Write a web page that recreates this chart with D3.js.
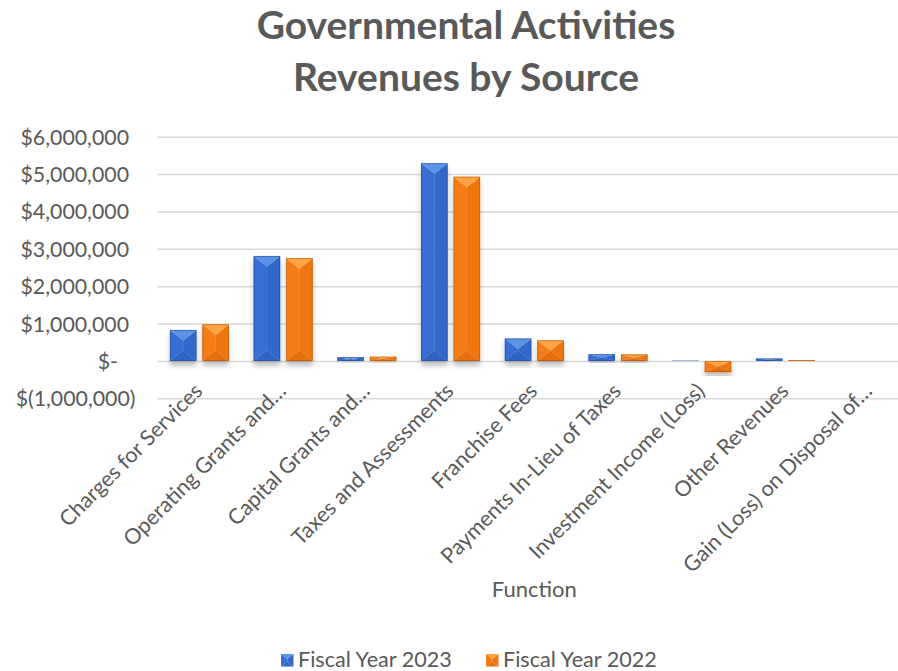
<!DOCTYPE html>
<html>
<head>
<meta charset="utf-8">
<script src="https://cdn.jsdelivr.net/npm/d3@7"></script>
<style>
  html, body { margin: 0; padding: 0; background: #fff; overflow: hidden; }
  svg { display: block; font-family: Lato, "Open Sans", sans-serif; }
</style>
</head>
<body>
<svg id="chart" width="898" height="671"></svg>
<script>
// Revenue sources (axis labels as shown, long names shortened with an ellipsis)
const categories = [
  "Charges for Services",
  "Operating Grants and…",
  "Capital Grants and…",
  "Taxes and Assessments",
  "Franchise Fees",
  "Payments In-Lieu of Taxes",
  "Investment Income (Loss)",
  "Other Revenues",
  "Gain (Loss) on Disposal of…"
];
const seriesNames = ["Fiscal Year 2023", "Fiscal Year 2022"];
const fy2023 = [830000, 2810000, 100000, 5290000, 600000, 180000, 10000, 65000, 0];
const fy2022 = [980000, 2750000, 115000, 4930000, 550000, 175000, -300000, 25000, 0];
const yTicks = [-1000000, 0, 1000000, 2000000, 3000000, 4000000, 5000000, 6000000];
const titleLines = ["Governmental Activities", "Revenues by Source"];
const xAxisTitle = "Function";

const seriesValues = [fy2023, fy2022];
const rows = categories.map((c, i) => ({
  category: c,
  values: seriesNames.map((s, j) => ({ series: s, value: seriesValues[j][i] }))
}));

// Bevel palettes per series
const palettes = {
  "Fiscal Year 2023": { top: "#5b93e6", bottom: "#3163c4", left: "#386ed3", right: "#3268cb", edge: "#1e4a9a" },
  "Fiscal Year 2022": { top: "#ffa443", bottom: "#e46f0d", left: "#f57c16", right: "#ee7611", edge: "#b05000" }
};

const svg = d3.select("#chart");
const chartWidth = 932;  // full chart area; the right edge runs past the window
const plot = { left: 157.6, right: 911, top: 136.7, bottom: 398.3 };
const textColor = "#595959";
const gridColor = "#d9d9d9";

const defs = svg.append("defs");
const shadow = defs.append("filter").attr("id", "barShadow")
  .attr("x", "-30%").attr("y", "-30%").attr("width", "160%").attr("height", "160%");
shadow.append("feDropShadow")
  .attr("dx", 0).attr("dy", 5).attr("stdDeviation", 2.4)
  .attr("flood-color", "#000").attr("flood-opacity", 0.24);

// Scales
const x0 = d3.scaleBand().domain(categories).range([plot.left, plot.right]).paddingInner(0).paddingOuter(0);
const groupInset = x0.bandwidth() * 0.1475;
const x1 = d3.scaleBand().domain(seriesNames)
  .range([groupInset, x0.bandwidth() - groupInset]).paddingInner(0.185).paddingOuter(0);
const y = d3.scaleLinear().domain([-1000000, 6000000]).range([plot.bottom, plot.top]);

// Title
const title = svg.append("g").attr("fill", textColor)
  .attr("font-weight", 700).attr("font-size", 39).attr("text-anchor", "middle");
title.selectAll("text").data(titleLines).join("text")
  .attr("x", chartWidth / 2)
  .attr("y", (d, i) => 39 + i * 52)
  .text(d => d);

// Gridlines
const yAxisGrid = d3.axisLeft(y).tickValues(yTicks)
  .tickSize(-(plot.right - plot.left)).tickFormat("");
svg.append("g")
  .attr("transform", `translate(${plot.left},0)`)
  .call(yAxisGrid)
  .call(g => g.select(".domain").remove())
  .call(g => g.selectAll(".tick line").attr("stroke", gridColor).attr("stroke-width", 1.5));

// Y axis labels in accounting style
const fmt = d3.format(",");
const accounting = v => v === 0 ? "$-" : v < 0 ? `$(${fmt(-v)})` : `$${fmt(v)}`;
const yAxis = d3.axisLeft(y).tickValues(yTicks).tickSize(0).tickPadding(28.6).tickFormat(accounting);
svg.append("g")
  .attr("transform", `translate(${plot.left},0)`)
  .call(yAxis)
  .call(g => g.select(".domain").remove())
  .call(g => g.selectAll(".tick text")
    .attr("fill", textColor)
    .attr("font-size", 21.3)
    .attr("font-family", "Lato, sans-serif")
    .attr("dy", "0.35em")
    .attr("dx", d => d === 0 ? -11 : d < 0 ? 6.5 : 0));

// Bars with a pyramid bevel
function bevelFaces(bx, top, bottom, w) {
  const h = bottom - top;
  const d = Math.min(w * 0.4, h / 2);
  const cx = bx + w / 2;
  return {
    top: [[bx, top], [bx + w, top], [cx, top + d]],
    bottom: [[bx, bottom], [bx + w, bottom], [cx, bottom - d]],
    left: [[bx, top], [cx, top + d], [cx, bottom - d], [bx, bottom]],
    right: [[bx + w, top], [cx, top + d], [cx, bottom - d], [bx + w, bottom]]
  };
}
const pts = p => p.map(q => q.join(",")).join(" ");

function drawBevel(g, bx, top, bottom, w, p, outline) {
  const f = bevelFaces(bx, top, bottom, w);
  g.append("polygon").attr("points", pts(f.left)).attr("fill", p.left);
  g.append("polygon").attr("points", pts(f.right)).attr("fill", p.right);
  g.append("polygon").attr("points", pts(f.top)).attr("fill", p.top);
  g.append("polygon").attr("points", pts(f.bottom)).attr("fill", p.bottom);
  if (outline) {
    g.append("rect").attr("x", bx + 0.4).attr("y", top + 0.4)
      .attr("width", w - 0.8).attr("height", Math.max(0, bottom - top - 0.8))
      .attr("fill", "none").attr("stroke", p.edge).attr("stroke-width", 0.8).attr("stroke-opacity", 0.7);
  }
}

const groups = svg.append("g").selectAll("g.cat").data(rows).join("g")
  .attr("class", "cat")
  .attr("transform", d => `translate(${x0(d.category)},0)`);

groups.selectAll("g.bar").data(d => d.values).join("g")
  .attr("class", "bar")
  .attr("filter", "url(#barShadow)")
  .each(function(d) {
    const top = Math.min(y(d.value), y(0));
    const bottom = Math.max(y(d.value), y(0));
    if (bottom - top < 0.3) return;
    drawBevel(d3.select(this), x1(d.series), top, bottom, x1.bandwidth(), palettes[d.series], true);
  });

// Category labels, rotated 45 degrees
const xLabels = svg.append("g").attr("fill", textColor).attr("font-size", 21.5);
xLabels.selectAll("text").data(categories).join("text")
  .attr("text-anchor", "end")
  .attr("transform", d => `translate(${x0(d) + x0.bandwidth() / 2 - 1},${387}) rotate(-45)`)
  .attr("dy", "0.35em")
  .text(d => d);

// Axis title
svg.append("text")
  .attr("x", (plot.left + plot.right) / 2)
  .attr("y", 597)
  .attr("text-anchor", "middle")
  .attr("fill", textColor)
  .attr("font-size", 22)
  .text(xAxisTitle);

// Legend
const legend = svg.append("g").attr("font-size", 21.6).attr("fill", textColor);
const legendX = [281, 486];
const lg = legend.selectAll("g").data(seriesNames).join("g")
  .attr("transform", (d, i) => `translate(${legendX[i]},654)`);
lg.each(function(d) {
  drawBevel(d3.select(this), 0, 0, 12.5, 12.5, palettes[d], false);
});
lg.append("text").attr("x", 17).attr("y", 12.8).text(d => d);
</script>
</body>
</html>
